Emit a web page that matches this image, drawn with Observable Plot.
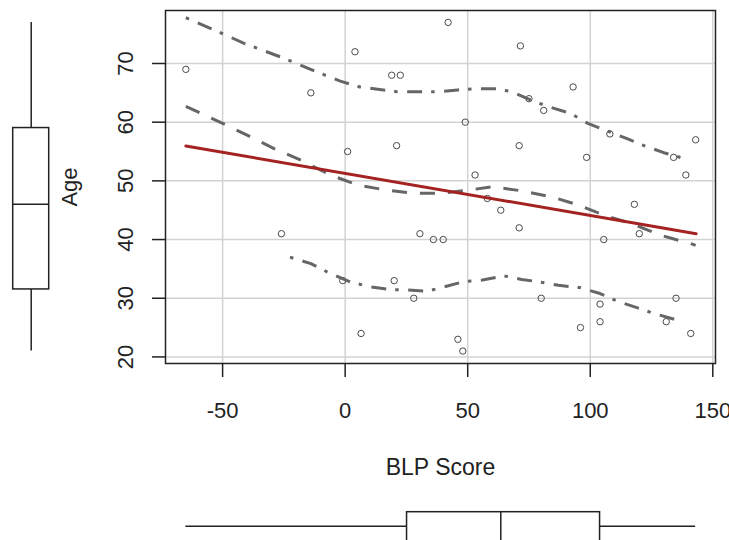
<!DOCTYPE html>
<html><head><meta charset="utf-8">
<script src="https://cdn.jsdelivr.net/npm/d3@7"></script>
<script src="https://cdn.jsdelivr.net/npm/@observablehq/plot@0.6"></script>
<style>
body{margin:0;background:#fff;}
#wrap{position:relative;width:729px;height:540px;overflow:hidden;font-family:"Liberation Sans",Arial,sans-serif;}
#wrap svg{position:absolute;left:0;top:0;}
</style></head><body><div id="wrap"></div>
<script>
// data
const blpScore = [-65,-14,4,42,19,22.5,1,21,71.5,93,75,81,49,108,143,71,98.5,134,139,53,58,63.5,71,118,120,105.5,36,40,30.5,-26,-1,20,28,6.5,46,48,80,104,104,96,135,131,141];
const age      = [69,65,72,77,68,68,55,56,73,66,64,62,60,58,57,56,54,54,51,51,47,45,42,46,41,40,40,40,41,41,33,33,30,24,23,21,30,29,26,25,30,26,24];
const fitX = [-65, 143.2];
const fitY = [55.95, 41.0];
const smoothX = [-65,-50,-40,-29,-18,-6,5,17,28,39,50,60,72,84,95,106,117,129,141,143];
const smoothY = [62.7,59.8,57.8,55.5,53.5,51.0,49.3,48.4,47.9,47.9,48.4,49.0,48.3,47.3,45.9,44.1,42.7,40.7,39.3,39.0];
const upperX = [-65,-55,-41,-25,-10,-2,6,21,38,46,53,61,68,76,84,92,99,115,122,130,140];
const upperY = [77.8,76.0,73.4,70.9,68.3,67.0,66.0,65.2,65.2,65.5,65.7,65.7,65.2,63.7,62.5,61.5,59.8,57.2,56.0,54.8,53.6];
const lowerX = [-22.5,-14,-6,2,9.5,18,25,33.5,41,48,56,65,72,79,87,96,104,111,119,126,136];
const lowerY = [37.0,35.9,34.2,32.8,32.0,31.5,31.4,31.2,32.0,32.8,33.1,33.8,33.2,32.8,32.2,31.8,30.8,29.5,28.4,27.4,26.2];
const xTicks = [-50,0,50,100,150];
const yTicks = [20,30,40,50,60,70];
const xLabel = "BLP Score";
const yLabel = "Age";

function fivenum(v){
  const s=[...v].sort((a,b)=>a-b), n=s.length;
  const n4=Math.floor((n+3)/2)/2;
  const d=[1,n4,(n+1)/2,n+1-n4,n];
  return d.map(i=>0.5*(s[Math.floor(i)-1]+s[Math.ceil(i)-1]));
}
const zip=(xs,ys)=>xs.map((x,i)=>({x,y:ys[i]}));
const fmt=d=>`${d}`;

const W=729,H=540,mL=165,mR=14,mT=10,mB=177;
const xDomain=[-73.3,151.1], yDomain=[18.88,79.03];
const ink="#222", gray="#666";
const font={fontFamily:'"Liberation Sans",Arial,sans-serif',fontSize:"22px",color:ink,background:"transparent",overflow:"visible"};

const main = Plot.plot({
  width:W,height:H,marginLeft:mL,marginRight:mR,marginTop:mT,marginBottom:mB,
  x:{domain:xDomain}, y:{domain:yDomain},
  style:font,
  marks:[
    Plot.gridX(xTicks,{stroke:"#d3d3d3",strokeOpacity:1,strokeWidth:1.5}),
    Plot.gridY(yTicks,{stroke:"#d3d3d3",strokeOpacity:1,strokeWidth:1.5}),
    Plot.dot(zip(blpScore,age),{x:"x",y:"y",r:3.2,stroke:"#4a4a4a",strokeWidth:1}),
    Plot.line(zip(smoothX,smoothY),{x:"x",y:"y",stroke:gray,strokeWidth:3,strokeDasharray:"15,13",strokeLinecap:"butt"}),
    Plot.line(zip(upperX,upperY),{x:"x",y:"y",stroke:gray,strokeWidth:3,strokeDasharray:"3.5,9.5,15,9",strokeLinecap:"butt"}),
    Plot.line(zip(lowerX,lowerY),{x:"x",y:"y",stroke:gray,strokeWidth:3,strokeDasharray:"3.5,9.5,15,9",strokeLinecap:"butt"}),
    Plot.line(zip(fitX,fitY),{x:"x",y:"y",stroke:"#a52222",strokeWidth:3}),
    Plot.frame({stroke:ink,strokeWidth:1.5}),
    Plot.axisX({ticks:xTicks,tickFormat:fmt,tickSize:14,tickPadding:24.6,fontSize:22,label:null,strokeWidth:1.5}),
    Plot.axisY({ticks:yTicks,tickFormat:fmt,tickSize:13,tickPadding:27,tickRotate:-90,textAnchor:"middle",lineAnchor:"middle",fontSize:22,label:null,strokeWidth:1.5}),
    Plot.text([xLabel],{text:d=>d,frameAnchor:"bottom",textAnchor:"middle",dy:104,lineAnchor:"middle",fontSize:23,fill:ink}),
    Plot.text([yLabel],{text:d=>d,frameAnchor:"left",textAnchor:"middle",dx:-96,rotate:-90,lineAnchor:"middle",fontSize:22,fill:ink})
  ]
});

const sy=fivenum(age), sx=fivenum(blpScore);
const leftBox = Plot.plot({
  width:W,height:H,marginLeft:0,marginRight:0,marginTop:mT,marginBottom:mB,
  x:{domain:[0,1],range:[12.7,48.7],axis:null}, y:{domain:yDomain,axis:null},
  style:font,
  marks:[
    Plot.ruleX([sy],{x:0.5,y1:d=>d[0],y2:d=>d[1],stroke:ink,strokeWidth:1.5}),
    Plot.ruleX([sy],{x:0.5,y1:d=>d[3],y2:d=>d[4],stroke:ink,strokeWidth:1.5}),
    Plot.rect([sy],{x1:0,x2:1,y1:d=>d[1],y2:d=>d[3],fill:"white",stroke:ink,strokeWidth:1.5}),
    Plot.ruleY([sy],{y:d=>d[2],x1:0,x2:1,stroke:ink,strokeWidth:1.5})
  ]
});
const bottomBox = Plot.plot({
  width:W,height:H,marginLeft:mL,marginRight:mR,marginTop:0,marginBottom:0,
  x:{domain:xDomain,axis:null}, y:{domain:[0,1],range:[511.7,539.7],axis:null},
  style:font,
  marks:[
    Plot.ruleY([sx],{y:0.5,x1:d=>d[0],x2:d=>d[1],stroke:ink,strokeWidth:1.5}),
    Plot.ruleY([sx],{y:0.5,x1:d=>d[3],x2:d=>d[4],stroke:ink,strokeWidth:1.5}),
    Plot.rect([sx],{y1:0,y2:1.15,x1:d=>d[1],x2:d=>d[3],fill:"white",stroke:ink,strokeWidth:1.5}),
    Plot.ruleX([sx],{x:d=>d[2],y1:0,y2:1.15,stroke:ink,strokeWidth:1.5})
  ]
});
const wrap=document.getElementById("wrap");
wrap.append(main,leftBox,bottomBox);
</script></body></html>
